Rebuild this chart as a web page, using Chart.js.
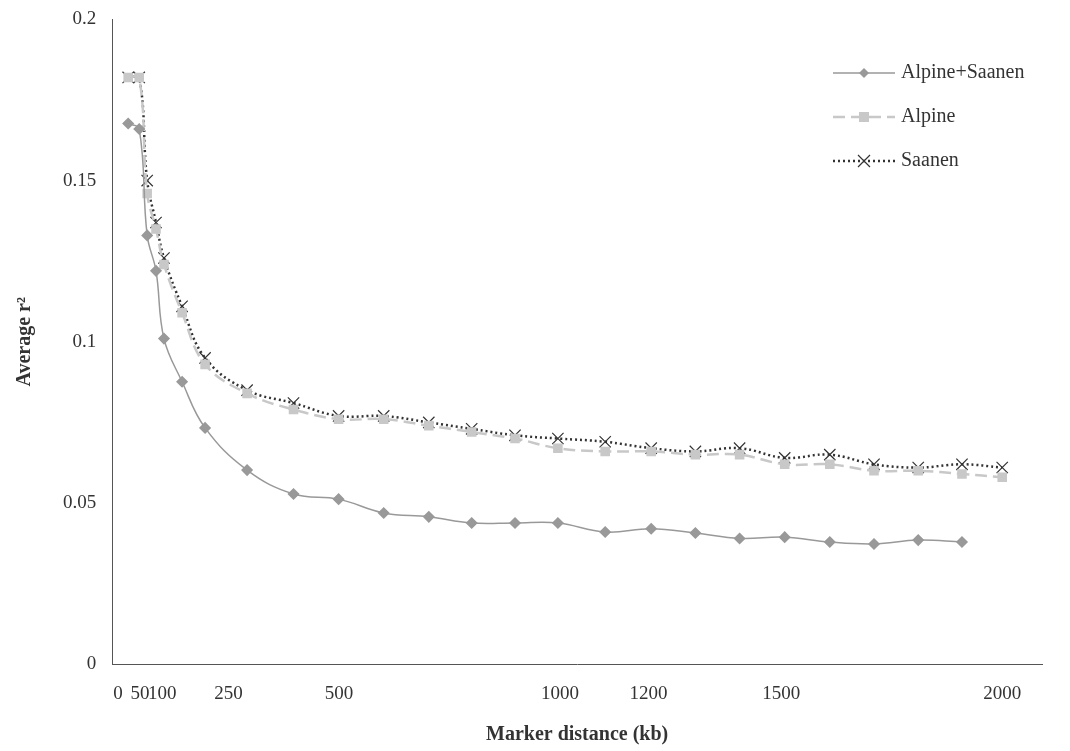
<!DOCTYPE html>
<html><head><meta charset="utf-8">
<script src="https://cdn.jsdelivr.net/npm/chart.js@4/dist/chart.umd.min.js"></script>
<style>body{margin:0;background:#fff}#w{width:1070px;height:751px}</style></head>
<body><div id="w"><canvas id="c"></canvas></div>
<script>
const distAS=[23,48,66,86,104,145,197,292,397,499,601,703,800,898,995,1102,1206,1306,1406,1508,1610,1710,1810,1909];
const distS=[23,48,66,86,104,145,197,292,397,499,601,703,800,898,995,1102,1206,1306,1406,1508,1610,1710,1810,1909,2000];
const alpineSaanen=[0.1677,0.166,0.133,0.122,0.101,0.0876,0.0733,0.0602,0.0528,0.0512,0.0469,0.0457,0.0438,0.0438,0.0438,0.041,0.042,0.0407,0.039,0.0394,0.0379,0.0373,0.0385,0.0379];
const alpine=[0.182,0.182,0.146,0.135,0.124,0.109,0.093,0.084,0.079,0.076,0.076,0.074,0.072,0.070,0.067,0.066,0.066,0.065,0.065,0.062,0.062,0.060,0.060,0.059,0.058];
const saanen=[0.182,0.182,0.150,0.137,0.126,0.111,0.095,0.085,0.081,0.077,0.077,0.075,0.073,0.071,0.070,0.069,0.067,0.066,0.067,0.064,0.065,0.062,0.061,0.062,0.061];
const xTicks=[0,50,100,250,500,1000,1200,1500,2000];
const yTicks=[0,0.05,0.1,0.15,0.2];
const pts=(xs,ys)=>xs.map((x,i)=>({x,y:ys[i]}));
Chart.defaults.font.family='"Liberation Serif", serif';
Chart.defaults.color='#333';
const legendPlugin={id:'leg',afterDraw(ch){
 const c=ch.ctx;c.save();
 ch.data.datasets.forEach((d,i)=>{
  const y=73+i*44,x0=833,x1=895;
  c.strokeStyle=d.borderColor;c.lineWidth=d.borderWidth;c.setLineDash(d.borderDash||[]);
  c.beginPath();c.moveTo(x0,y);c.lineTo(x1,y);c.stroke();c.setLineDash([]);
  const m=(x0+x1)/2;c.fillStyle=d.backgroundColor;
  if(d.pointStyle==='rectRot'){c.beginPath();c.moveTo(m,y-5);c.lineTo(m+5,y);c.lineTo(m,y+5);c.lineTo(m-5,y);c.fill();}
  else if(d.pointStyle==='rect'){c.fillRect(m-5,y-5,10,10);}
  else{c.lineWidth=1.2;c.beginPath();c.moveTo(m-6,y-6);c.lineTo(m+6,y+6);c.moveTo(m+6,y-6);c.lineTo(m-6,y+6);c.stroke();}
  c.fillStyle='#333';c.font='20px "Liberation Serif", serif';c.textBaseline='middle';c.fillText(d.label,x1+6,y);
 });c.restore();}};
new Chart(document.getElementById('c'),{type:'scatter',data:{datasets:[
{label:'Alpine+Saanen',data:pts(distAS,alpineSaanen),showLine:true,tension:0.4,borderColor:'#999',backgroundColor:'#999',borderWidth:1.5,pointStyle:'rectRot',pointRadius:5},
{label:'Alpine',data:pts(distS,alpine),showLine:true,tension:0.4,borderColor:'#c8c8c8',backgroundColor:'#c8c8c8',borderWidth:2.5,borderDash:[12,6],pointStyle:'rect',pointRadius:5},
{label:'Saanen',data:pts(distS,saanen),showLine:true,tension:0.4,borderColor:'#333',backgroundColor:'#333',borderWidth:2.5,borderDash:[2,3],pointStyle:'crossRot',pointRadius:8,pointBorderWidth:1.2}
]},options:{responsive:true,maintainAspectRatio:false,animation:false,
layout:{padding:{top:14,right:28,bottom:2,left:9}},
plugins:{legend:{display:false},tooltip:{enabled:false}},
scales:{x:{type:'linear',min:-13,max:2090,grid:{display:false,tickColor:'#555'},border:{color:'#555'},
 afterBuildTicks:a=>{a.ticks=xTicks.map(v=>({value:v}));},ticks:{font:{size:19},padding:10,autoSkip:false,maxRotation:0,callback:v=>String(v)},
 title:{display:true,text:'Marker distance (kb)',padding:{top:8,bottom:2},font:{size:20,weight:'bold'}}},
y:{min:0,max:0.2,grid:{display:false,tickColor:'#555'},border:{color:'#555'},
 afterBuildTicks:a=>{a.ticks=yTicks.map(v=>({value:v}));},ticks:{font:{size:19},padding:8,callback:v=>String(v)},
 title:{display:true,text:'Average r²',padding:{top:4,bottom:18},font:{size:20,weight:'bold'}}}}},
plugins:[legendPlugin]});
</script></body></html>
